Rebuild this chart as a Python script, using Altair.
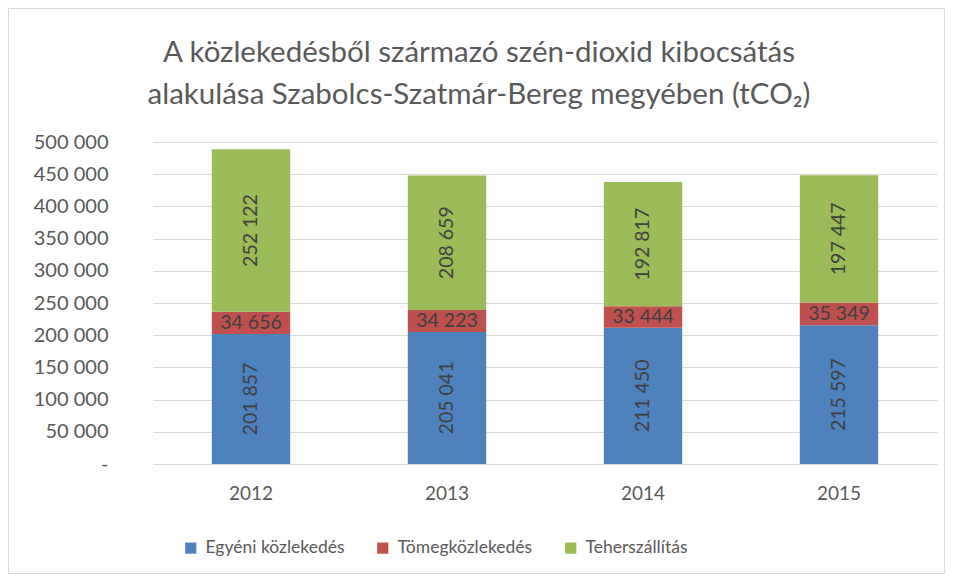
import altair as alt
import pandas as pd

years = ["2012", "2013", "2014", "2015"]
series = ["Egyéni közlekedés", "Tömegközlekedés", "Teherszállítás"]
egyeni = [201857, 205041, 211450, 215597]
tomeg = [34656, 34223, 33444, 35349]
teher = [252122, 208659, 192817, 197447]
colors = ["#4F81BD", "#C0504D", "#9BBB59"]
y_max = 500000
y_step = 50000
title_lines = ["A közlekedésből származó szén-dioxid kibocsátás",
               "alakulása Szabolcs-Szatmár-Bereg megyében (tCO₂)"]

rows = []
for i, y in enumerate(years):
    for k, (s, vals) in enumerate(zip(series, [egyeni, tomeg, teher])):
        rows.append({"year": y, "series": s, "value": vals[i], "order": k})
df = pd.DataFrame(rows)

FONT = "Lato"
fmt = "replace(format(datum.value, ','), /,/g, ' ')"

x_axis = alt.Axis(labelAngle=0, ticks=False, domain=False, labelPadding=20,
                  labelFontSize=19, labelColor="#595959", labelFont=FONT)
y_axis = alt.Axis(tickCount=y_max // y_step, ticks=False, domain=False, labelPadding=45,
                  labelOverlap=False,
                  labelFontSize=20, labelColor="#595959", labelFont=FONT,
                  gridColor="#d9d9d9",
                  labelExpr="datum.value == 0 ? '-\u00a0\u00a0\u00a0' : " + fmt)
y_scale = alt.Scale(domain=[0, y_max], nice=False)
x_scale = alt.Scale(paddingInner=0.6, paddingOuter=0.3)

base = alt.Chart(df)

bars = base.mark_bar().encode(
    x=alt.X("year:N", title=None, sort=years, scale=x_scale, axis=x_axis),
    y=alt.Y("value:Q", stack="zero", title=None, scale=y_scale, axis=y_axis),
    color=alt.Color("series:N", sort=series,
                    scale=alt.Scale(domain=series, range=colors),
                    legend=alt.Legend(title=None, orient="none", direction="horizontal",
                                      legendX=29, legendY=397, symbolType="square",
                                      symbolSize=125, symbolStrokeWidth=0,
                                      labelFontSize=17.5, labelColor="#595959", labelFont=FONT,
                                      labelOffset=6, columnPadding=29)),
    order=alt.Order("order:Q"),
)

stacked = base.transform_stack(
    stack="value", groupby=["year"], as_=["y0", "y1"], sort=[alt.SortField("order")]
).transform_calculate(
    mid="(datum.y0 + datum.y1) / 2",
    label="replace(format(datum.value, ','), /,/g, ' ')",
)

text_rot = stacked.transform_filter("datum.order != 1").mark_text(
    angle=270, fontSize=19.5, color="#404040", font=FONT, baseline="middle", align="center"
).encode(x=alt.X("year:N", sort=years, title=None, scale=x_scale, axis=x_axis),
         y=alt.Y("mid:Q", title=None, scale=y_scale, axis=y_axis), text="label:N")

text_h = stacked.transform_filter("datum.order == 1").mark_text(
    fontSize=19.5, color="#404040", font=FONT, baseline="middle", align="center"
).encode(x=alt.X("year:N", sort=years, title=None, scale=x_scale, axis=x_axis),
         y=alt.Y("mid:Q", title=None, scale=y_scale, axis=y_axis), text="label:N")

border = alt.Chart(pd.DataFrame({"a": [0]})).mark_rect(
    fillOpacity=0, stroke="#d9d9d9", strokeWidth=1
).encode(x=alt.value(-144.5), x2=alt.value(791.5), y=alt.value(-133.5), y2=alt.value(431.5))

title_df = pd.DataFrame({"t": title_lines, "line": [0, 1]})
title1 = alt.Chart(title_df).transform_filter("datum.line == 0").mark_text(
    fontSize=29.5, font=FONT, color="#595959", align="center", baseline="alphabetic"
).encode(x=alt.value(326), y=alt.value(-80), text="t:N")
title2 = alt.Chart(title_df).transform_filter("datum.line == 1").mark_text(
    fontSize=29.5, font=FONT, color="#595959", align="center", baseline="alphabetic"
).encode(x=alt.value(326), y=alt.value(-38), text="t:N")

chart = alt.layer(bars, text_rot, text_h, border, title1, title2).properties(
    width=784, height=322,
    autosize=alt.AutoSizeParams(type="none"),
    padding={"left": 145, "top": 134, "right": 8, "bottom": 110},
).configure_view(stroke=None)

chart.save("out.html", embed_options={"renderer": "svg", "actions": False})
